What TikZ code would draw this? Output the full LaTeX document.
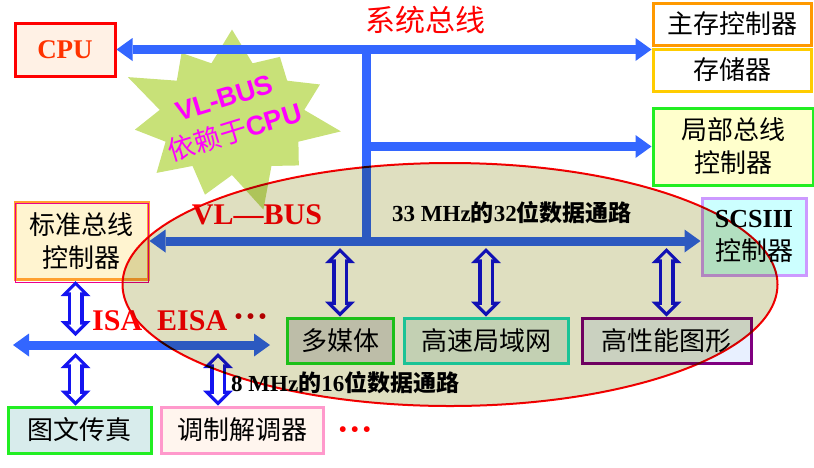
\documentclass[tikz,border=0pt]{standalone}
\usepackage{fontspec}
\setmainfont{Liberation Serif}
\setsansfont{Liberation Sans}
\newfontfamily\cjk{Noto Sans CJK SC}
\usetikzlibrary{shapes,arrows.meta,positioning,calc}
\definecolor{busblue}{RGB}{51,102,255}
\definecolor{dblue}{RGB}{20,20,240}
\definecolor{zoneolive}{RGB}{223,223,192}
\definecolor{burstgreen}{RGB}{200,225,120}
\definecolor{cpured}{RGB}{255,51,0}
\definecolor{burstpink}{RGB}{255,0,255}

\begin{document}
\begin{tikzpicture}[x=1pt, y=-1pt,
        every node/.style={inner sep=0pt},
        >={Triangle[length=16pt,width=23pt,line width=0pt]},
        box/.style={rectangle, draw, line width=3pt, align=center, font=\cjk\fontsize{26}{33}\selectfont},
        bus/.style={draw=busblue, line width=9pt},
        dbl/.style={draw=dblue, line width=16pt,
            {Triangle[length=15pt,width=30pt,line width=0pt]}-{Triangle[length=15pt,width=30pt,line width=0pt]},
            postaction={draw=white, line width=9pt, shorten <=4.6pt, shorten >=4.6pt,
            {Triangle[length=6.8pt,width=13.6pt,line width=0pt]}-{Triangle[length=6.8pt,width=13.6pt,line width=0pt]}}},
        label/.style={font=\cjk\bfseries\fontsize{23}{23}\selectfont, anchor=west},
        dots/.style={font=\rmfamily\bfseries\fontsize{36}{36}\selectfont}
    ]
    \useasboundingbox (0,0) rectangle (814,467);

    % boxes
    \node[box, draw=red, fill=cpured!20!orange!10, minimum width=100pt, minimum height=53pt,
        font=\rmfamily\bfseries\fontsize{27}{27}\selectfont, text=cpured] (cpu) at (65,49.5) {CPU};
    \node[box, draw={rgb,255:red,255;green,153;blue,0}, fill=white, minimum width=158pt, minimum height=42pt] (mainctrl) at (732,24) {主存控制器};
    \node[box, draw={rgb,255:red,255;green,204;blue,0}, fill=white, minimum width=158pt, minimum height=42pt,
        below=1pt of mainctrl] (memory) {存储器};
    \node[box, draw={rgb,255:red,34;green,238;blue,34}, fill={rgb,255:red,255;green,255;blue,204},
        minimum width=160pt, minimum height=77pt] (localctrl) at (733,146.5) {局部总线\\控制器};
    \node[box, draw={rgb,255:red,255;green,160;blue,48}, fill={rgb,255:red,255;green,244;blue,208},
        minimum width=133pt, minimum height=77pt] (stdctrl) at (81.5,241) {标准总线\\控制器};
    \draw[magenta, line width=.7pt] ($(stdctrl.north west)+(2,2)$) rectangle ($(stdctrl.south east)+(-1,1)$);
    \node[box, draw={rgb,255:red,204;green,153;blue,255}, fill={rgb,255:red,204;green,255;blue,255},
        minimum width=104pt, minimum height=77pt] (scsi) at (754,236.5) {{\rmfamily\bfseries SCSIII}\\控制器};
    \node[box, draw={rgb,255:red,34;green,220;blue,34}, fill={rgb,255:red,217;green,217;blue,224},
        minimum width=106pt, minimum height=45pt] (media) at (340,340.5) {多媒体};
    \node[box, draw={rgb,255:red,32;green,224;blue,200}, fill={rgb,255:red,224;green,238;blue,239},
        minimum width=164pt, minimum height=45pt] (lan) at (486,340.5) {高速局域网};
    \node[box, draw={rgb,255:red,128;green,0;blue,128}, fill={rgb,255:red,232;green,240;blue,255},
        minimum width=169pt, minimum height=45pt] (graphics) at (666.5,340.5) {高性能图形};
    \node[box, draw={rgb,255:red,34;green,238;blue,34}, fill={rgb,255:red,216;green,236;blue,236},
        minimum width=143pt, minimum height=46pt] (fax) at (79.5,430) {图文传真};
    \node[box, draw={rgb,255:red,255;green,153;blue,204}, fill={rgb,255:red,255;green,245;blue,238},
        minimum width=162pt, minimum height=46pt] (modem) at (242,430) {调制解调器};
    \node[dots, text=red] (moredots) at (355,434) {\textperiodcentered\textperiodcentered\textperiodcentered};

    % starburst
    \node[starburst, starburst points=11, starburst point height=44pt, fill=burstgreen,
        minimum width=234pt, minimum height=202pt] (burst) at (232,118) {};
    \node[rotate=17, align=center, text=burstpink, font=\sffamily\bfseries\fontsize{27}{36}\selectfont]
        (bursttext) at (230,116) {VL-BUS\\{\cjk\mdseries 依赖于}CPU};

    % buses
    \coordinate (jtop) at (366,50);
    \coordinate (jvl) at (366,241);
    \coordinate (isaL) at (13,345);
    \coordinate (isaR) at (270,345);
    \draw[bus, <->] (cpu.east) -- (cpu.east -| memory.west);
    \draw[bus] (jtop) -- (jvl);
    \draw[bus, ->] (jtop |- localctrl) -- (localctrl.west);
    \draw[bus, <->] (stdctrl.east) -- (stdctrl.east -| scsi.west);
    \draw[bus, <->] (isaL) -- (isaR);

    % bus labels
    \node[text=red, font=\cjk\fontsize{30}{30}\selectfont] (systitle) at (425,20) {系统总线};
    \node[text=red, font=\rmfamily\bfseries\fontsize{30}{30}\selectfont] (vltitle) at (257,215) {VL---BUS};
    \node[label] (vlrate) at (392,213) {{\rmfamily 33 MHz}的{\rmfamily 32}位数据通路};
    \node[text=red, font=\rmfamily\bfseries\fontsize{30}{30}\selectfont, anchor=west] (isatitle) at (92,321) {ISA\enspace EISA};
    \node[dots, text=red!80!black, anchor=west] (isadots) at ([xshift=5pt]isatitle.east) {\textperiodcentered\textperiodcentered\textperiodcentered};
    \node[label] (isarate) at (231,383) {{\rmfamily 8 MHz}的{\rmfamily 16}位数据通路};

    % double arrows
    \coordinate (vlb) at (0,248);
    \coordinate (isat) at (0,336);
    \coordinate (isab) at (0,353);
    \draw[dbl] (media.north |- vlb) -- (media.north);
    \draw[dbl] (lan.north |- vlb) -- (lan.north);
    \draw[dbl] (graphics.north |- vlb) -- (graphics.north);
    \draw[dbl] ([xshift=-6pt]stdctrl.south) -- ([xshift=-6pt]stdctrl.south |- isat);
    \draw[dbl] ([xshift=-4pt]fax.north |- isab) -- ([xshift=-4pt]fax.north);
    \draw[dbl] ([xshift=-24pt]modem.north |- isab) -- ([xshift=-24pt]modem.north);

    % VL-BUS zone
    \begin{scope}[blend mode=multiply]
        \node[ellipse, draw=red, line width=2pt, fill=zoneolive, minimum width=655pt, minimum height=243pt] (vlzone) at (450,284.5) {};
    \end{scope}
\end{tikzpicture}
\end{document}
